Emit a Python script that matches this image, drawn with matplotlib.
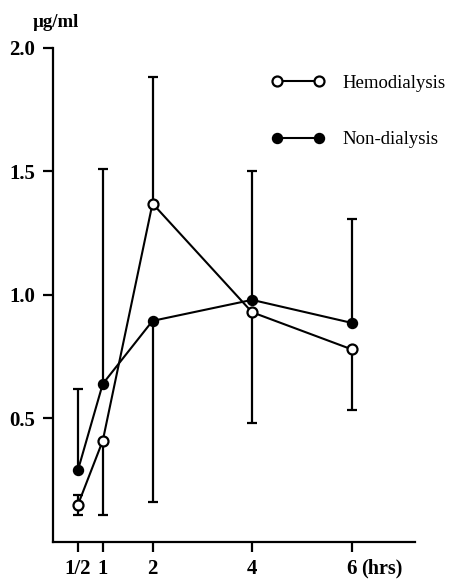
import numpy as np
import matplotlib
matplotlib.use("Agg")
import matplotlib.pyplot as plt

# serum level (ug/ml) after dosing, mean with one-sided error bars
hours = [0.5, 1, 2, 4, 6]
tick_labels = ["1/2", "1", "2", "4", "6"]

hemo = [0.15, 0.41, 1.37, 0.93, 0.78]
hemo_err_down = [0.04, 0.30, 0.0, 0.45, 0.245]
hemo_err_up = [0.04, 0.0, 0.51, 0.0, 0.0]

nondial = [0.29, 0.64, 0.895, 0.98, 0.887]
nondial_err_down = [0.0, 0.0, 0.735, 0.0, 0.0]
nondial_err_up = [0.33, 0.87, 0.0, 0.52, 0.42]

plt.rcParams['font.family'] = ['Liberation Serif', 'DejaVu Serif']

fig = plt.figure(figsize=(4.55, 5.8), dpi=100)
ax = fig.add_axes([0.1165, 0.0655, 0.795, 0.852])

eb = dict(fmt='none', ecolor='black', elinewidth=1.6, capsize=3.6, capthick=1.6, zorder=2)
ax.errorbar(hours, hemo, yerr=[hemo_err_down, hemo_err_up], **eb)
ax.errorbar(hours, nondial, yerr=[nondial_err_down, nondial_err_up], **eb)

ax.plot(hours, hemo, color='black', lw=1.5, marker='o', ms=7.2,
        mfc='white', mec='black', mew=1.6, zorder=3, label='Hemodialysis')
ax.plot(hours, nondial, color='black', lw=1.5, marker='o', ms=7.2,
        mfc='black', mec='black', zorder=3, label='Non-dialysis')

ax.set_xlim(0, 7.27)
ax.set_ylim(0, 2.0)
ax.set_xticks(hours)
ax.set_xticklabels(tick_labels)
ax.set_yticks([0.5, 1.0, 1.5, 2.0])
ax.set_yticklabels(["0.5", "1.0", "1.5", "2.0"])

for side in ['top', 'right']:
    ax.spines[side].set_visible(False)
for side in ['left', 'bottom']:
    ax.spines[side].set_linewidth(1.6)

ax.tick_params(axis='both', direction='out', length=7, width=1.6, labelsize=15)
ax.tick_params(axis='x', pad=5)
ax.tick_params(axis='y', pad=6)
for lbl in ax.get_xticklabels() + ax.get_yticklabels():
    lbl.set_fontweight('bold')

ax.annotate("(hrs)", xy=(6, 0), xycoords='data', xytext=(7, -12),
            textcoords='offset points', ha='left', va='top', fontsize=14.5,
            fontweight='bold', annotation_clip=False)
fig.text(0.072, 0.962, "µg/ml", fontsize=13.5, fontweight='bold', ha='left', va='center')

ax.legend(loc='upper left', bbox_to_anchor=(0.56, 0.9), bbox_transform=fig.transFigure,
          frameon=False, numpoints=2, handlelength=2.8, handletextpad=1.0,
          labelspacing=2.1, fontsize=13.5)

fig.savefig("out.png", dpi=100)
